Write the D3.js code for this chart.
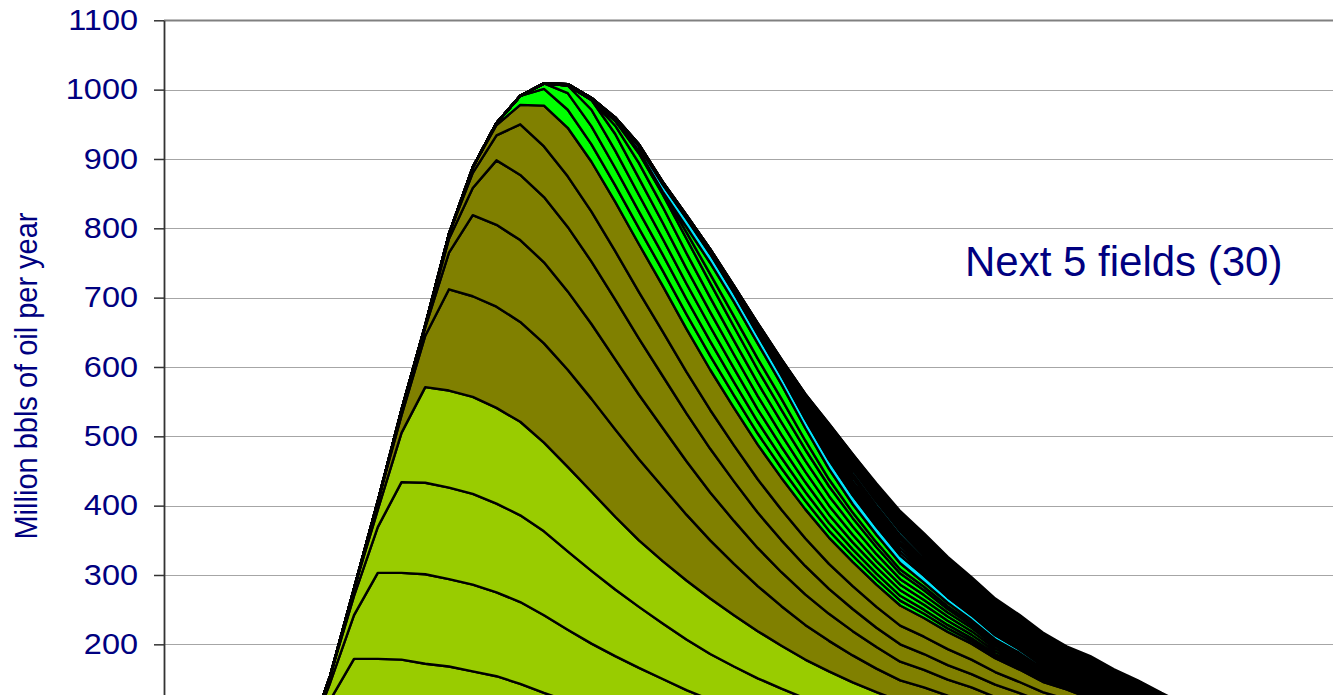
<!DOCTYPE html>
<html>
<head>
<meta charset="utf-8">
<script src="https://cdnjs.cloudflare.com/ajax/libs/d3/7.8.5/d3.min.js"></script>
<style>
  body { margin: 0; background: #ffffff; overflow: hidden; }
  svg { display: block; font-family: "Liberation Sans", Arial, sans-serif; }
</style>
</head>
<body>
<div id="chart"></div>
<script>
// categories (year index along the x axis)
var categories = [0,1,2,3,4,5,6,7,8,9,10,11,12,13,14,15,16,17,18,19,20,21,22,23,24,25,
  26,27,28,29,30,31,32,33,34,35,36,37,38,39,40,41,42,43,44,45,46,47,48,49,50];

// 100 sits below the visible window, so only 200 and up get labels
var yTicks = [200, 300, 400, 500, 600, 700, 800, 900, 1000, 1100];

// production of each field, million bbls per year, listed from its first year
var lightGreenStarts = [5, 6, 7, 8];
var lightGreenFields = [
  [10,50,120,179,179,178,172,168,161,154,143,130,118,107,97,88,80,72,65,59,53,48,43,39,35,32,29,27,25,23,21,19,18,17,15,14,13,12,11,10,9,8],
  [5,25,63,124,125,129,126,125,121,118,112,103,94,86,78,70,62,55,49,44,39,35,31,28,25,22,21,19,18,16,15,14,13,12,11,10,9,8,8,7,6],
  [10,28,66,131,132,132,131,128,125,121,113,105,96,88,80,73,66,60,54,49,44,40,36,32,29,27,25,23,21,20,18,17,15,14,13,12,11,10,9,8],
  [10,25,71,138,140,140,138,135,128,122,114,105,96,90,85,80,74,68,62,56,51,46,42,38,35,32,30,27,24,21,19,17,15,14,12,11,10,9,8]
];

var oliveStarts = [9, 10, 11, 12, 13];
var oliveFields = [
  [12,25,74,146,145,146,144,143,140,134,126,117,107,95,84,74,65,57,50,44,39,34,30,28,25,23,20,18,15,14,12,11,10,9,8,7,6,5],
  [8,12,53,117,118,118,117,113,108,101,93,85,77,69,62,55,49,44,39,35,31,27,25,23,21,19,18,16,15,14,13,12,11,10,9,8,7],
  [3,20,39,93,94,94,93,90,86,81,75,69,63,57,51,46,41,36,32,28,25,23,21,19,18,16,15,14,13,12,11,10,9,8,8,7],
  [7,22,36,73,73,73,72,70,67,64,60,56,52,48,44,40,36,33,30,27,25,23,21,18,16,14,12,11,10,9,8,7,6,5,5],
  [8,15,28,59,70,72,71,69,66,62,58,54,50,46,42,38,35,32,29,27,25,23,20,18,15,14,13,12,11,10,9,8,7,6]
];

var greenStarts = [14, 16, 17, 18, 19, 19, 20, 22];
var greenFields = [
  [3,13,24,26,25,24,23,22,21,20,18,16,14,12,10,9,8,7,6,5,4,3,3,2,2,2,2,1,1,1,1],
  [8,24,26,25,24,23,22,21,19,17,15,13,11,9,8,7,6,5,4,3,3,2,2,2,1,1,1,1,1],
  [11,24,25,24,23,22,21,20,18,16,14,12,10,9,8,7,6,5,4,3,3,2,2,2,1,1],
  [14,24,24,23,22,21,20,19,17,15,13,11,9,8,7,6,5,4,3,3,2,2,2,1,1],
  [12,22,23,22,21,20,19,18,16,14,12,10,8,7,6,5,4,3,3,2,2,1,1,1,1],
  [7,14,18,21,21,20,19,18,16,14,12,10,8,7,5,4,3,3,2,2,1,1,1,1],
  [4,4,9,13,15,16,16,13,10,8,7,6,5,4,3,3,3,2,2,2,1,1],
  [8,16,21,22,21,18,15,12,11,9,6,5,4,3,3,2,1,1,1,1]
];

// first one is the wide bright band, the rest are thin
var cyanStarts = [17, 20, 21, 22, 24, 25, 26, 27];
var cyanFields = [
  [2,3,4,6,10,12,13,13,13,13,13,13,13,12,11,10,8,7,6,5,4,3,3,2,2,1],
  [2,2,2,2,3,3,4,4,5,5,5,5,4,4,3,2,2,1,1,1,1,1,1],
  [1,1,2,2,3,3,4,5,5,5,5,4,3,3,2,2,1,1,1,1,1],
  [1,1,1,2,3,4,5,5,5,5,4,4,3,2,2,2,1,1,1,1],
  [1,2,3,4,5,5,5,4,4,3,2,2,1,1,1,1,1],
  [1,2,4,5,6,5,5,4,3,2,2,1,1,1,1,1],
  [1,2,4,5,5,5,4,3,2,2,1,1,1,1],
  [2,4,6,6,6,5,4,3,2,1,1,1,1]
];

// the next 5 fields
var blackStarts = [19, 24, 26, 28, 30];
var blackFields = [
  [1,1,1,1,2,2,3,3,4,5,5,6,6,7,7,8,8,8,8,7,7,7,6,6,5,5,4,4],
  [1,2,2,4,6,7,7,7,7,8,8,8,8,8,7,7,6,6,5,5,4,4,3],
  [2,4,6,7,7,8,8,8,9,9,9,9,8,8,7,7,6,5,5,4,3],
  [2,3,4,5,6,6,7,8,8,8,8,8,7,7,6,6,5,4,4],
  [2,3,4,5,5,6,7,7,7,7,7,6,6,5,5,4,4]
];

var svgWidth = 1333;
var svgHeight = 695;

var svg = d3.select("#chart").append("svg")
  .attr("width", svgWidth)
  .attr("height", svgHeight);

// scales: plot bottom (0) lies below the visible window
var x = d3.scaleLinear().domain([0, 50]).range([164, 164 + 50 * 23.75]);
var y = d3.scaleLinear().domain([0, 1100]).range([783, 20.3]);

// build the stack table from the field arrays
var groups = [
  {fill: "#99CC00", starts: lightGreenStarts, series: lightGreenFields},
  {fill: "#808000", starts: oliveStarts, series: oliveFields},
  {fill: "#00FF00", starts: greenStarts, series: greenFields},
  {fill: "#00E6FF", starts: cyanStarts, series: cyanFields},
  {fill: "#000000", starts: blackStarts, series: blackFields}
];

var keys = [], fills = {}, columns = {};
groups.forEach(function(g) {
  g.series.forEach(function(s, j) {
    var key = "f" + keys.length;
    keys.push(key);
    fills[key] = g.fill;
    columns[key] = {start: g.starts[j], values: s};
  });
});

var table = categories.map(function(c) {
  var row = {cat: c};
  keys.forEach(function(k) {
    var col = columns[k];
    var idx = c - col.start;
    row[k] = (idx >= 0 && idx < col.values.length) ? col.values[idx] : 0;
  });
  return row;
});

var stacked = d3.stack().keys(keys)(table);

// gridlines
svg.append("g")
  .selectAll("line")
  .data(yTicks)
  .enter()
  .append("line")
  .attr("x1", 164)
  .attr("x2", svgWidth)
  .attr("y1", d => Math.round(y(d)) + 0.5)
  .attr("y2", d => Math.round(y(d)) + 0.5)
  .attr("stroke", d => d === 1100 ? "#808080" : "#a6a6a6")
  .attr("stroke-width", d => d === 1100 ? 2 : 1);

// clip to the plot area
svg.append("clipPath").attr("id", "plotClip")
  .append("rect")
  .attr("x", 164).attr("y", y(1100))
  .attr("width", svgWidth - 164).attr("height", 800);

var area = d3.area()
  .x(d => x(d.data.cat))
  .y0(d => y(d[0]))
  .y1(d => y(d[1]));

svg.append("g")
  .attr("clip-path", "url(#plotClip)")
  .selectAll("path")
  .data(stacked)
  .enter()
  .append("path")
  .attr("d", area)
  .attr("fill", d => fills[d.key])
  .attr("stroke", "#000")
  .attr("stroke-width", 2.4)
  .attr("stroke-linejoin", "round");

// y axis
var leftAxis = d3.axisLeft(y)
  .tickValues(yTicks)
  .tickSize(10)
  .tickSizeOuter(0)
  .tickPadding(16)
  .tickFormat(d3.format("d"));

var yAxis = svg.append("g")
  .attr("transform", "translate(164, 0)")
  .call(leftAxis);

yAxis.select(".domain").attr("stroke", "#333").attr("stroke-width", 1.8);
yAxis.selectAll(".tick line").attr("stroke", "#333").attr("stroke-width", 1.5);
// the labels in the picture are slightly wide, stretch them a little
yAxis.selectAll(".tick text")
  .attr("x", 0)
  .attr("transform", "translate(-26, 0) scale(1.12, 1)")
  .attr("fill", "#000080")
  .style("font-size", "29px")
  .style("font-family", "'Liberation Sans', Arial, sans-serif");

// axis title
svg.append("text")
  .attr("transform", "translate(37, 376) scale(1.1, 1) rotate(-90)")
  .attr("text-anchor", "middle")
  .attr("fill", "#000080")
  .style("font-size", "29px")
  .text("Million bbls of oil per year");

// annotation
svg.append("text")
  .attr("x", 965)
  .attr("y", 276)
  .attr("fill", "#000080")
  .style("font-size", "42px")
  .text("Next 5 fields (30)");
</script>
</body>
</html>
